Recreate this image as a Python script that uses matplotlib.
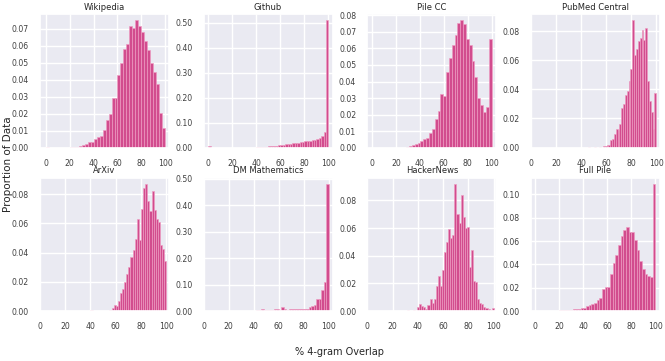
import numpy as np
import matplotlib
matplotlib.use('Agg')
import matplotlib.pyplot as plt
import seaborn as sns
from matplotlib.ticker import FormatStrFormatter, MultipleLocator

# histogram heights per dataset (bins span 0-100 evenly)
titles = ["Wikipedia", "Github", "Pile CC", "PubMed Central",
          "ArXiv", "DM Mathematics", "HackerNews", "Full Pile"]

wikipedia = [0.0005] + [0] * 7 + [
    0.0005, 0.0003, 0.0005, 0.001, 0.0015, 0.002, 0.003, 0.0035, 0.005, 0.006,
    0.007, 0.0105, 0.016, 0.020, 0.029, 0.029, 0.043, 0.050, 0.058, 0.061,
    0.072, 0.0705, 0.075, 0.0715, 0.068, 0.063, 0.0575, 0.050, 0.0445, 0.0375,
    0.0205, 0.0115]

github = [0.005] + [0] * 19 + [
    0.001, 0.0015, 0.002, 0.003, 0.004, 0.005, 0.006, 0.007, 0.008, 0.009,
    0.011, 0.012, 0.013, 0.014, 0.015, 0.017, 0.018, 0.019, 0.021, 0.023,
    0.025, 0.026, 0.027, 0.029, 0.032, 0.036, 0.040, 0.045, 0.062, 0.51]

pile_cc = [0] * 12 + [
    0.0005, 0.001, 0.0015, 0.002, 0.003, 0.004, 0.005, 0.006, 0.009, 0.011,
    0.017, 0.022, 0.0325, 0.0315, 0.0455, 0.054, 0.062, 0.068, 0.0755, 0.077,
    0.075, 0.0655, 0.062, 0.0525, 0.0425, 0.030, 0.0255, 0.0215, 0.0245, 0.0655]

pubmed = [0] * 31 + [
    0.0005, 0, 0, 0.0005, 0, 0, 0.0005, 0, 0.001, 0.001,
    0.0015, 0.002, 0.005, 0.006, 0.009, 0.0125, 0.012, 0.016, 0.027, 0.030,
    0.036, 0.039, 0.046, 0.054, 0.0875,
    0.0635, 0.068, 0.0735, 0.0755, 0.081, 0.074, 0.0825, 0.046, 0.032, 0.0245,
    0.0125, 0.0375]

arxiv = [0] * 24 + [0.0005, 0] + [0.0003] * 7 + [0.0005] + [
    0.002, 0.004, 0.0035, 0.007, 0.012, 0.015, 0.020, 0.025, 0.030, 0.037,
    0.042, 0.049, 0.063, 0.0485, 0.070, 0.084, 0.087, 0.075, 0.0685, 0.082,
    0.069, 0.063, 0.061, 0.045, 0.0425, 0.034]

dm_math = [0] * 20 + [
    0.001, 0.002, 0.003, 0.008, 0.002, 0.002, 0.003, 0.003, 0.007, 0.006,
    0.005, 0.017, 0.006, 0.005, 0.006, 0.006, 0.006, 0.006, 0.007, 0.006,
    0.007, 0.009, 0.015, 0.018, 0.022, 0.046, 0.046, 0.080, 0.110, 0.48]

hackernews = [0] * 19 + [0.0005, 0, 0, 0.0005, 0] + [
    0.003, 0.005, 0.0035, 0.003, 0.0015, 0.004, 0.0085, 0.0055, 0.0085, 0.018,
    0.025, 0.018, 0.030, 0.043, 0.050, 0.059, 0.053, 0.055, 0.092, 0.070,
    0.064, 0.084, 0.068, 0.060, 0.061, 0.032, 0.044, 0.022, 0.021, 0.009,
    0.006, 0.005, 0.003, 0.002, 0.0015, 0.001, 0.002]

full_pile = [0] * 8 + [0.0003, 0.0005, 0.0007, 0.0009] + [
    0.001, 0.0012, 0.0015, 0.0018, 0.002, 0.0025, 0.003, 0.004, 0.005, 0.006,
    0.007, 0.0095, 0.011, 0.019, 0.021, 0.021, 0.032, 0.041, 0.048, 0.057,
    0.064, 0.0695, 0.072,
    0.068, 0.0675, 0.061, 0.052, 0.043, 0.036, 0.032, 0.030, 0.029, 0.109]

data = [wikipedia, github, pile_cc, pubmed, arxiv, dm_math, hackernews, full_pile]
y_steps = [0.01, 0.1, 0.01, 0.02, 0.02, 0.1, 0.02, 0.02]
x_lims = [(-5, 103), (-4, 103.5), (-4, 104), (0, 103),
          (0, 102), (0, 103), (0, 102), (-3.6, 104)]

sns.set_theme(style='darkgrid')

fig, axes = plt.subplots(2, 4, figsize=(6.65, 3.61), dpi=100)
fig.subplots_adjust(left=0.06, right=0.9925, top=0.961, bottom=0.1385,
                    wspace=0.27, hspace=0.225)

for ax, name, h, step, xl in zip(axes.flat, titles, data, y_steps, x_lims):
    edges = np.linspace(0, 100, len(h) + 1)
    ax.bar(edges[:-1], h, width=np.diff(edges), align='edge',
           color='#d24c8e', edgecolor='#ee9cc2', linewidth=0.45)
    ax.set_title(name, fontsize=6, pad=3, color='.15')
    ax.set_xlim(xl)
    ax.set_xticks(range(0, 101, 20))
    ax.yaxis.set_major_locator(MultipleLocator(step))
    ax.yaxis.set_major_formatter(FormatStrFormatter('%.2f'))
    ax.tick_params(labelsize=5.6, pad=2, colors='.25')

fig.text(0.012, 0.545, 'Proportion of Data', rotation=90, ha='center', va='center',
         fontsize=7.5, color='.15')
fig.text(0.51, 0.025, '% 4-gram Overlap', ha='center', va='center',
         fontsize=7, color='.15')

fig.savefig('out.png', dpi=100)
